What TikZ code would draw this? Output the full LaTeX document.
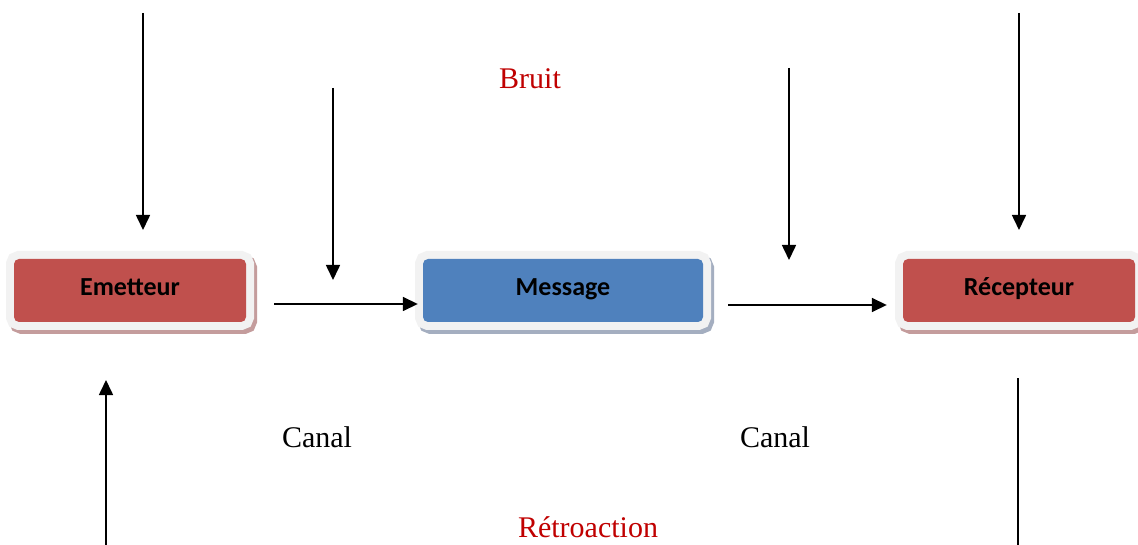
\documentclass[tikz,border=0pt]{standalone}
\usepackage{fontspec}
\setmainfont{Liberation Serif}
\newfontfamily\boxfont{Carlito}
\usetikzlibrary{arrows.meta}
\definecolor{boxred}{RGB}{192,80,77}
\definecolor{boxblue}{RGB}{79,129,189}
\definecolor{framegray}{RGB}{242,242,242}
\definecolor{shadowred}{RGB}{196,156,156}
\definecolor{shadowblue}{RGB}{164,174,192}
\definecolor{labelred}{RGB}{192,0,0}
\tikzset{
  arr/.style={line width=1.6pt, -{Triangle[width=14pt,length=15pt]}},
  plainline/.style={line width=1.6pt},
  card/.style={rounded corners=5pt, minimum height=63pt, inner sep=0pt,
    text height=17pt, text depth=7pt,
    font=\boxfont\bfseries\fontsize{26}{30}\selectfont},
  redcard/.style={card, fill=boxred,
    preaction={draw=shadowred, line width=16pt, rounded corners=6pt,
               transform canvas={shift={(3pt,-4pt)}}},
    preaction={draw=framegray, line width=16pt, rounded corners=6pt}},
  bluecard/.style={card, fill=boxblue,
    preaction={draw=shadowblue, line width=16pt, rounded corners=6pt,
               transform canvas={shift={(3pt,-4pt)}}},
    preaction={draw=framegray, line width=16pt, rounded corners=6pt}},
  label/.style={anchor=base, inner sep=0pt, font=\fontsize{30}{36}\selectfont},
}
\begin{document}
\begin{tikzpicture}[x=1pt, y=-1pt]
  \useasboundingbox (0,0) rectangle (1138,545);
  \clip (0,0) rectangle (1138,545);
  \fill[white] (0,0) rectangle (1138,545);

  % the three stages of the communication chain
  \node[redcard, minimum width=232pt] (em) at (130,290.5) {Emetteur};
  \node[bluecard, minimum width=280pt] (msg) at (563,290.5) {Message};
  \node[redcard, minimum width=232pt] (rec) at (1019,290.5) {Récepteur};

  % free ends of the arrows
  \coordinate (n1) at (143,13);   \coordinate (n1e) at (143,230);
  \coordinate (n2) at (333,88);   \coordinate (n2e) at (333,280);
  \coordinate (n3) at (789,68);   \coordinate (n3e) at (789,260);
  \coordinate (n4) at (1019,13);  \coordinate (n4e) at (1019,230);
  \coordinate (c1) at (274,304);
  \coordinate (c2) at (728,305);
  \coordinate (f1) at (106,548);  \coordinate (f1e) at (106,380);
  \coordinate (f2) at (1018,378); \coordinate (f2e) at (1018,548);

  % noise arrows
  \draw[arr] (n1) -- (n1e);
  \draw[arr] (n2) -- (n2e);
  \draw[arr] (n3) -- (n3e);
  \draw[arr] (n4) -- (n4e);

  % channel arrows
  \draw[arr] (c1) -- ([xshift=-5pt]msg.west |- c1);
  \draw[arr] (c2) -- ([xshift=-16pt]rec.west |- c2);

  % feedback lines
  \draw[arr] (f1) -- (f1e);
  \draw[plainline] (f2) -- (f2e);

  % labels
  \node[label, text=labelred] (bruit) at (530,89) {Bruit};
  \node[label] (canal1) at (317,447) {Canal};
  \node[label] (canal2) at (775,447) {Canal};
  \node[label, text=labelred] (retro) at (588,537) {Rétroaction};
\end{tikzpicture}
\end{document}
